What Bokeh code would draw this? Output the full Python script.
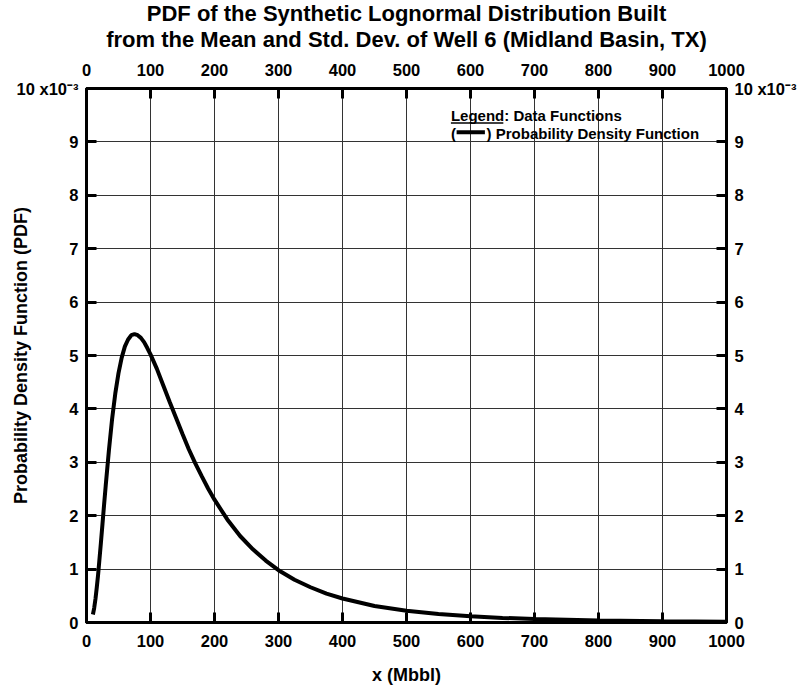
from bokeh.plotting import figure
from bokeh.models import LinearAxis, Title, Label, FixedTicker, Range1d, ColumnDataSource
from bokeh.embed import file_html
from bokeh.resources import INLINE

# ---- data (PDF in units of 1e-3) ----
x_mbbl = [10, 12, 14, 16, 18, 20, 22.5, 25, 27.5, 30, 35, 40, 45, 50, 55, 60, 65,
          70, 75, 80, 85, 90, 95, 100, 110, 120, 130, 140, 150, 160, 170, 180,
          190, 200, 220, 240, 260, 280, 300, 325, 350, 375, 400, 450, 500, 550,
          600, 650, 700, 800, 900, 1000]
pdf_x1e3 = [0.15, 0.27, 0.44, 0.65, 0.88, 1.15, 1.49, 1.85, 2.21, 2.56, 3.22, 3.81,
            4.29, 4.67, 4.96, 5.17, 5.30, 5.38, 5.40, 5.38, 5.33, 5.25, 5.14, 5.02,
            4.75, 4.44, 4.13, 3.83, 3.53, 3.24, 2.98, 2.74, 2.51, 2.30, 1.93, 1.62,
            1.37, 1.16, 0.98, 0.80, 0.66, 0.54, 0.45, 0.31, 0.22, 0.159, 0.116,
            0.086, 0.064, 0.037, 0.022, 0.014]
x_ticks = [0, 100, 200, 300, 400, 500, 600, 700, 800, 900, 1000]
y_ticks = [0, 1, 2, 3, 4, 5, 6, 7, 8, 9, 10]
y_tick_labels = {10: "10 x10\u207b\u00b3"}

title_line1 = "PDF of the Synthetic Lognormal Distribution Built"
title_line2 = "from the Mean and Std. Dev. of Well 6 (Midland Basin, TX)"
x_label = "x (Mbbl)"
y_label = "Probability Density Function (PDF)"
legend_title = "Legend: Data Functions"
legend_item = ") Probability Density Function"

FONT = "Liberation Sans"
TICK_SIZE = "16.5px"

p = figure(width=800, height=690, title=None,
           x_range=Range1d(0, 1000), y_range=Range1d(0, 10),
           output_backend="svg", toolbar_location=None,
           min_border_left=86, min_border_right=74,
           min_border_top=88, min_border_bottom=68,
           background_fill_color="white", border_fill_color="white")
p.outline_line_color = "black"
p.outline_line_width = 3

p.add_layout(LinearAxis(), "above")
p.add_layout(LinearAxis(), "right")

for ax in p.xaxis:
    ax.ticker = FixedTicker(ticks=x_ticks)
for ax in p.yaxis:
    ax.ticker = FixedTicker(ticks=y_ticks)
    ax.major_label_overrides = y_tick_labels

for ax in p.xaxis + p.yaxis:
    ax.axis_line_color = "black"
    ax.axis_line_width = 3
    ax.major_tick_in = 10
    ax.major_tick_out = 0
    ax.major_tick_line_width = 3
    ax.major_tick_line_color = "black"
    ax.minor_tick_in = 0
    ax.minor_tick_out = 0
    ax.major_label_text_font = FONT
    ax.major_label_text_font_style = "bold"
    ax.major_label_text_font_size = TICK_SIZE
    ax.major_label_text_color = "black"
    ax.axis_label_text_font = FONT
    ax.axis_label_text_font_style = "bold"
    ax.axis_label_text_font_size = "18px"
    ax.axis_label_text_color = "black"

bottom, top = p.below[0], p.above[0]
left, right = p.left[0], p.right[0]
bottom.axis_label = x_label
bottom.major_label_standoff = 12
bottom.axis_label_standoff = 15
top.major_label_standoff = 13
left.axis_label = y_label
left.major_label_standoff = 8
left.axis_label_standoff = -17
right.major_label_standoff = 8

p.xgrid.ticker = FixedTicker(ticks=x_ticks)
p.ygrid.ticker = FixedTicker(ticks=y_ticks)
p.grid.grid_line_color = "#333333"
p.grid.grid_line_width = 1

title_kw = dict(align="center", text_font=FONT, text_font_style="bold",
                text_font_size="22px", text_color="black", text_line_height=0.9)
# first added sits closest to the plot
p.add_layout(Title(text=title_line2, standoff=17, **title_kw), "above")
p.add_layout(Title(text=title_line1, standoff=-18, **title_kw), "above")

# curve
src = ColumnDataSource(data=dict(x=x_mbbl, y=pdf_x1e3))
p.line("x", "y", source=src, line_color="black", line_width=4)

# legend block (upper right)
lab_kw = dict(text_font=FONT, text_font_style="bold", text_color="black",
              text_font_size="15px", text_align="left", text_baseline="middle")
LX, LY1, LY2 = 569.4, 9.50, 9.157
p.add_layout(Label(x=LX, y=LY1, text=legend_title, **lab_kw))
p.add_layout(Label(x=LX, y=LY2, text="(", **lab_kw))
p.add_layout(Label(x=625.1, y=LY2, text=legend_item, **lab_kw))
p.segment(x0=[LX], y0=[9.354], x1=[651.3], y1=[9.354], line_color="black", line_width=1.5)
p.segment(x0=[578.3], y0=[9.18], x1=[622.5], y1=[9.18], line_color="black", line_width=4)

open("out.html", "w").write(file_html(p, INLINE))
